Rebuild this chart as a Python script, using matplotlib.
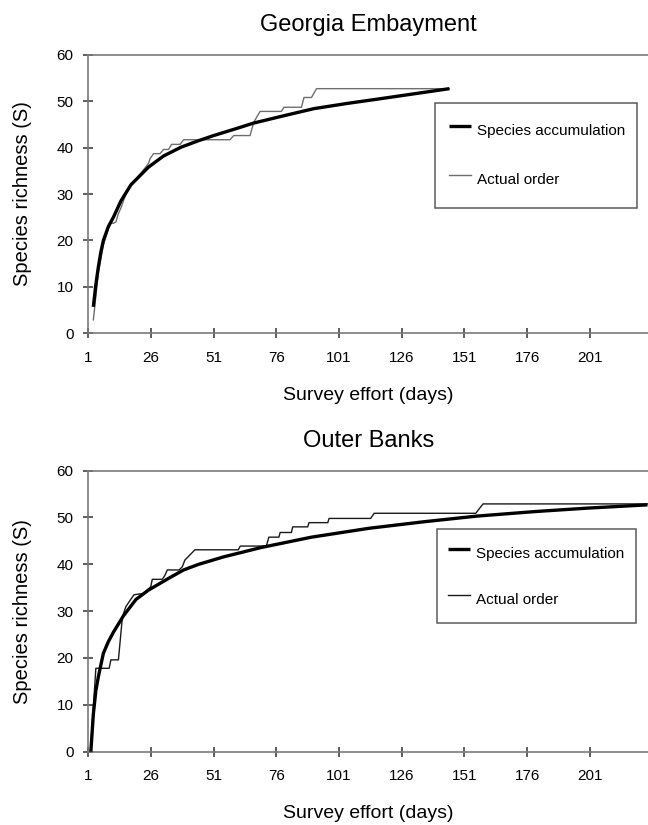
import numpy as np
import matplotlib.pyplot as plt

plt.rcParams['font.family'] = ['Liberation Sans', 'DejaVu Sans']

# Georgia Embayment
ge_acc_day = [3, 4, 5, 6, 7, 9, 11, 14, 18, 25, 31, 38, 45, 51, 60, 67, 80, 91, 104, 117, 131, 145]
ge_acc_val = [5.7, 10.5, 14.3, 17.5, 20, 23, 25, 28.5, 32, 35.8, 38.2, 40.1, 41.5, 42.6, 44.1, 45.3, 47, 48.4, 49.5, 50.5, 51.6, 52.7]
ge_act_day = [3, 5, 7, 9, 10, 11, 12, 13, 14, 16, 18, 22, 25, 25.6, 27, 29.6, 31, 33, 34.2, 37.6, 39,
              57.5, 59, 65.5, 67, 69.5, 78, 79, 86, 87, 90, 92, 145]
ge_act_val = [2.9, 13, 19, 22.5, 23.7, 23.7, 24, 25.8, 27, 30, 32, 34.5, 36.6, 37.6, 38.7, 38.7, 39.6, 39.6,
              40.7, 40.7, 41.7, 41.7, 42.6, 42.6, 45.5, 47.8, 47.8, 48.7, 48.7, 50.8, 50.8, 52.7, 52.7]

# Outer Banks
ob_acc_day = [2, 3, 4, 5, 7, 9, 11, 15, 20, 25, 33, 39, 45, 55, 70, 90, 113, 135, 156, 180, 200, 224]
ob_acc_val = [0, 8, 13, 16, 21, 23.5, 25.5, 29, 32.5, 34.5, 37, 38.8, 40, 41.6, 43.6, 45.8, 47.7, 49.1, 50.3, 51.3, 52, 52.7]
ob_act_day = [2, 4, 9.3, 10, 13, 14.6, 16, 19.2, 23, 25.9, 26.5, 30.5, 31.5, 32.5, 37.2, 38.5, 39.5, 43.5,
              60.8, 61.6, 72, 73, 77, 77.5, 82, 82.5, 88.5, 89, 96.5, 97, 113.6, 115, 155.5, 158.4, 224]
ob_act_val = [1, 17.8, 17.8, 19.6, 19.6, 28.8, 31, 33.5, 33.8, 35.2, 36.8, 36.8, 37.6, 38.8, 38.8, 39.5, 40.9, 43.1,
              43.1, 43.9, 43.9, 45.8, 45.8, 46.8, 46.8, 48, 48, 48.9, 48.9, 49.8, 49.8, 50.9, 50.9, 52.9, 52.9]

xticks = [1, 26, 51, 76, 101, 126, 151, 176, 201]
yticks = [0, 10, 20, 30, 40, 50, 60]

fig = plt.figure(figsize=(6.48, 8.25), dpi=100)
ax1 = fig.add_axes([0.1363, 0.596, 0.8637, 0.3376])
ax2 = fig.add_axes([0.1363, 0.0889, 0.8637, 0.3406])

panels = [
    (ax1, 'Georgia Embayment', ge_acc_day, ge_acc_val, ge_act_day, ge_act_val, '#6e6e6e',
     (0.619, 0.419, 0.361, 0.4096), 0.9, 2.5, 1.35),
    (ax2, 'Outer Banks', ob_acc_day, ob_acc_val, ob_act_day, ob_act_val, '#1a1a1a',
     (0.623, 0.42, 0.3555, 0.3725), 0.7, 2.3, 1.26),
]

for ax, title, ad, av, td, tv, thin_col, bbox, bpad, hh, ls in panels:
    ax.plot(td, tv, color=thin_col, lw=1.0, label='Actual order', zorder=2)
    ax.plot(ad, av, color='black', lw=2.4, label='Species accumulation', zorder=3,
            solid_capstyle='butt')
    ax.set_xlim(1, 224.2)
    ax.set_ylim(0, 60)
    ax.set_xticks(xticks)
    ax.set_yticks(yticks)
    for side in ['left', 'bottom', 'top']:
        ax.spines[side].set_color('#7a7a7a')
        ax.spines[side].set_linewidth(1.2)
    ax.spines['right'].set_visible(False)
    ax.tick_params(direction='inout', length=7, width=1.1, color='#333333',
                   labelsize=11, pad=7)
    ax.tick_params(axis='x', pad=9)
    ax.set_title(title, fontsize=17, pad=17)
    ax.set_xlabel('Survey effort (days)', fontsize=14, labelpad=16)
    ax.set_ylabel('Species richness (S)', fontsize=14.5, labelpad=18)
    h, l = ax.get_legend_handles_labels()
    leg = ax.legend(h[::-1], l[::-1], loc='upper left', bbox_to_anchor=bbox, mode='expand',
                    borderaxespad=0, fancybox=False, frameon=True, fontsize=11,
                    borderpad=bpad, handleheight=hh, labelspacing=ls,
                    handlelength=1.45, handletextpad=0.4)
    leg.get_frame().set_edgecolor('#333333')
    leg.get_frame().set_linewidth(1.1)

fig.savefig('out.png', dpi=100)
